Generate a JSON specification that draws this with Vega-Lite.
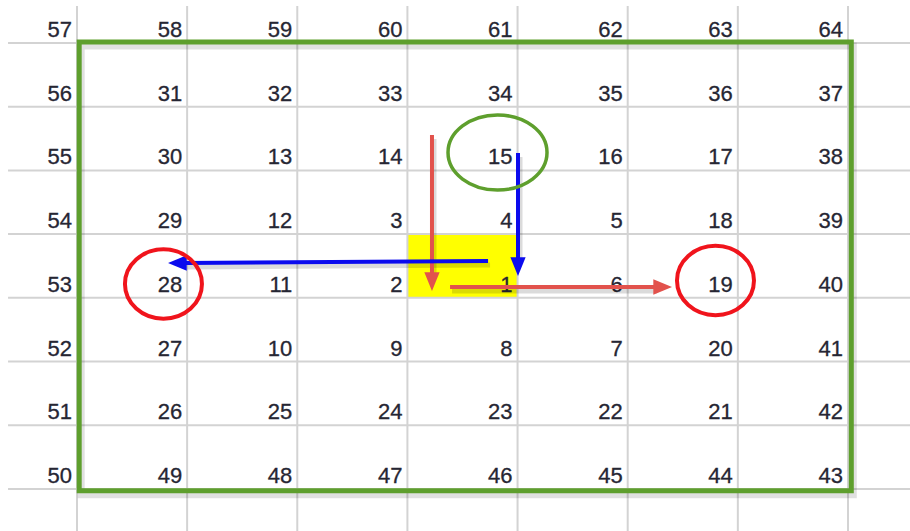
{
  "$schema": "https://vega.github.io/schema/vega-lite/v6.json",
  "width": 910,
  "height": 531,
  "autosize": {"type": "none"},
  "padding": 0,
  "background": "#ffffff",
  "config": {"view": {"stroke": null}},
  "datasets": {
    "cells": [
      {"c":1,"r":1,"n":57},{"c":2,"r":1,"n":58},{"c":3,"r":1,"n":59},{"c":4,"r":1,"n":60},{"c":5,"r":1,"n":61},{"c":6,"r":1,"n":62},{"c":7,"r":1,"n":63},{"c":8,"r":1,"n":64},
      {"c":1,"r":2,"n":56},{"c":2,"r":2,"n":31},{"c":3,"r":2,"n":32},{"c":4,"r":2,"n":33},{"c":5,"r":2,"n":34},{"c":6,"r":2,"n":35},{"c":7,"r":2,"n":36},{"c":8,"r":2,"n":37},
      {"c":1,"r":3,"n":55},{"c":2,"r":3,"n":30},{"c":3,"r":3,"n":13},{"c":4,"r":3,"n":14},{"c":5,"r":3,"n":15},{"c":6,"r":3,"n":16},{"c":7,"r":3,"n":17},{"c":8,"r":3,"n":38},
      {"c":1,"r":4,"n":54},{"c":2,"r":4,"n":29},{"c":3,"r":4,"n":12},{"c":4,"r":4,"n":3},{"c":5,"r":4,"n":4},{"c":6,"r":4,"n":5},{"c":7,"r":4,"n":18},{"c":8,"r":4,"n":39},
      {"c":1,"r":5,"n":53},{"c":2,"r":5,"n":28},{"c":3,"r":5,"n":11},{"c":4,"r":5,"n":2},{"c":5,"r":5,"n":1},{"c":6,"r":5,"n":6},{"c":7,"r":5,"n":19},{"c":8,"r":5,"n":40},
      {"c":1,"r":6,"n":52},{"c":2,"r":6,"n":27},{"c":3,"r":6,"n":10},{"c":4,"r":6,"n":9},{"c":5,"r":6,"n":8},{"c":6,"r":6,"n":7},{"c":7,"r":6,"n":20},{"c":8,"r":6,"n":41},
      {"c":1,"r":7,"n":51},{"c":2,"r":7,"n":26},{"c":3,"r":7,"n":25},{"c":4,"r":7,"n":24},{"c":5,"r":7,"n":23},{"c":6,"r":7,"n":22},{"c":7,"r":7,"n":21},{"c":8,"r":7,"n":42},
      {"c":1,"r":8,"n":50},{"c":2,"r":8,"n":49},{"c":3,"r":8,"n":48},{"c":4,"r":8,"n":47},{"c":5,"r":8,"n":46},{"c":6,"r":8,"n":45},{"c":7,"r":8,"n":44},{"c":8,"r":8,"n":43},
      {"c":1,"r":9,"n":81},{"c":2,"r":9,"n":80},{"c":3,"r":9,"n":79},{"c":4,"r":9,"n":78},{"c":5,"r":9,"n":77},{"c":6,"r":9,"n":76},{"c":7,"r":9,"n":75},{"c":8,"r":9,"n":74}
    ],
    "vlines": [{"v":1},{"v":2},{"v":3},{"v":4},{"v":5},{"v":6},{"v":7},{"v":8},{"v":9}],
    "hlines": [{"h":1},{"h":2},{"h":3},{"h":4},{"h":5},{"h":6},{"h":7},{"h":8},{"h":9}],
    "highlight": [{"x":4,"x2":5,"y":4,"y2":5}],
    "frame": [{"x":1.02,"x2":8.03,"y":0.985,"y2":8.03}],
    "arrows": [
      {"route":"red","dir":"down","x":4.223,"y":2.444,"x2":4.223,"y2":4.626},
      {"route":"red","dir":"right","x":4.387,"y":4.83,"x2":6.248,"y2":4.83},
      {"route":"blue","dir":"down","x":5.004,"y":2.727,"x2":5.004,"y2":4.39},
      {"route":"blue","dir":"left","x":4.732,"y":4.422,"x2":1.981,"y2":4.453}
    ],
    "rings": [
      {"kind":"start","x":4.818,"y":2.719},
      {"kind":"target","x":1.785,"y":4.783},
      {"kind":"target","x":6.797,"y":4.728}
    ]
  },
  "layer": [
    {
      "data": {"name": "highlight"},
      "mark": {"type": "rect", "color": "#ffff00"},
      "encoding": {
        "x": {"field": "x", "type": "quantitative", "axis": null, "scale": {"domain": [0.301, 8.563], "nice": false, "zero": false}},
        "x2": {"field": "x2"},
        "y": {"field": "y", "type": "quantitative", "axis": null, "scale": {"domain": [0.325, 8.66], "nice": false, "zero": false, "reverse": true}},
        "y2": {"field": "y2"}
      }
    },
    {
      "data": {"name": "vlines"},
      "mark": {"type": "rule", "color": "#d3d3d3", "strokeWidth": 2},
      "encoding": {
        "x": {"field": "v", "type": "quantitative"},
        "y": {"datum": 0.419},
        "y2": {"datum": 9.5}
      }
    },
    {
      "data": {"name": "hlines"},
      "mark": {"type": "rule", "color": "#d3d3d3", "strokeWidth": 2},
      "encoding": {
        "y": {"field": "h", "type": "quantitative"},
        "x": {"datum": 0.374},
        "x2": {"datum": 9.5}
      }
    },
    {
      "data": {"name": "cells"},
      "mark": {"type": "text", "align": "right", "baseline": "alphabetic", "dx": -5, "dy": -6, "font": "Liberation Sans", "fontSize": 22, "fill": "#262633", "stroke": "#262633", "strokeWidth": 0.3},
      "encoding": {
        "x": {"field": "c", "type": "quantitative"},
        "y": {"field": "r", "type": "quantitative"},
        "text": {"field": "n", "type": "nominal"}
      }
    },
    {
      "data": {"name": "frame"},
      "mark": {"type": "rect", "fill": null, "filled": false, "stroke": "#000000", "strokeOpacity": 0.12, "strokeWidth": 7, "xOffset": 2, "yOffset": 4, "x2Offset": 2, "y2Offset": 4},
      "encoding": {
        "x": {"field": "x", "type": "quantitative"},
        "x2": {"field": "x2"},
        "y": {"field": "y", "type": "quantitative"},
        "y2": {"field": "y2"}
      }
    },
    {
      "data": {"name": "frame"},
      "mark": {"type": "rect", "fill": null, "filled": false, "stroke": "#5e9f2d", "strokeWidth": 5},
      "encoding": {
        "x": {"field": "x", "type": "quantitative"},
        "x2": {"field": "x2"},
        "y": {"field": "y", "type": "quantitative"},
        "y2": {"field": "y2"}
      }
    },
    {
      "data": {"name": "arrows"},
      "mark": {"type": "rule", "strokeWidth": 5, "strokeCap": "butt", "color": "#000000", "opacity": 0.14, "xOffset": 2, "yOffset": 4, "x2Offset": 2, "y2Offset": 4},
      "encoding": {
        "x": {"field": "x", "type": "quantitative"},
        "x2": {"field": "x2"},
        "y": {"field": "y", "type": "quantitative"},
        "y2": {"field": "y2"}
      }
    },
    {
      "data": {"name": "arrows"},
      "mark": {"type": "rule", "strokeWidth": 4, "strokeCap": "butt"},
      "encoding": {
        "x": {"field": "x", "type": "quantitative"},
        "x2": {"field": "x2"},
        "y": {"field": "y", "type": "quantitative"},
        "y2": {"field": "y2"},
        "color": {"field": "route", "type": "nominal", "legend": null, "scale": {"domain": ["red", "blue"], "range": ["#e2524c", "#0b0bee"]}}
      }
    },
    {
      "data": {"name": "arrows"},
      "mark": {"type": "point", "filled": true, "opacity": 1, "size": 1156, "strokeWidth": 0},
      "encoding": {
        "x": {"field": "x2", "type": "quantitative"},
        "y": {"field": "y2", "type": "quantitative"},
        "color": {"field": "route", "type": "nominal", "legend": null},
        "shape": {"field": "dir", "type": "nominal", "legend": null, "scale": {"domain": ["down", "right", "left"], "range": ["M-0.45,-0.1L0.45,-0.1L0,1Z", "M-0.1,-0.45L-0.1,0.45L1,0Z", "M0.1,-0.45L0.1,0.45L-1,0Z"]}}
      }
    },
    {
      "data": {"name": "rings"},
      "transform": [{"filter": "datum.kind == 'start'"}],
      "mark": {"type": "point", "filled": false, "opacity": 1, "color": "#5e9f2d", "strokeWidth": 3.5, "size": 9801, "shape": "M-1,0C-1,-0.419,-0.552,-0.758,0,-0.758C0.552,-0.758,1,-0.419,1,0C1,0.419,0.552,0.758,0,0.758C-0.552,0.758,-1,0.419,-1,0Z"},
      "encoding": {
        "x": {"field": "x", "type": "quantitative"},
        "y": {"field": "y", "type": "quantitative"}
      }
    },
    {
      "data": {"name": "rings"},
      "transform": [{"filter": "datum.kind == 'target'"}],
      "mark": {"type": "point", "filled": false, "opacity": 1, "color": "#f0141c", "strokeWidth": 4, "size": 5929, "shape": "M-1,0C-1,-0.497,-0.552,-0.9,0,-0.9C0.552,-0.9,1,-0.497,1,0C1,0.497,0.552,0.9,0,0.9C-0.552,0.9,-1,0.497,-1,0Z"},
      "encoding": {
        "x": {"field": "x", "type": "quantitative"},
        "y": {"field": "y", "type": "quantitative"}
      }
    }
  ]
}
